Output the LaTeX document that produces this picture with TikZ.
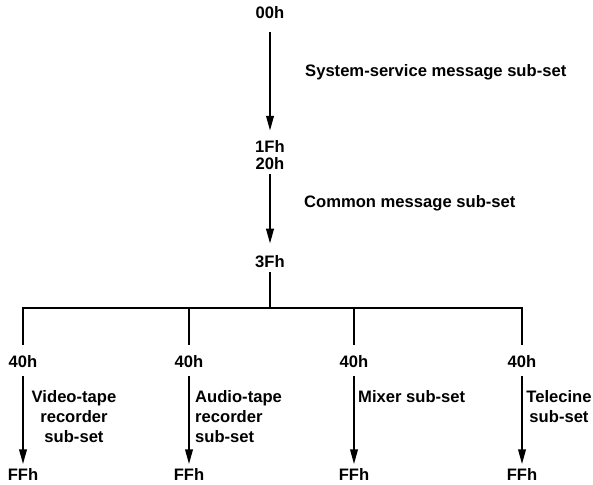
\documentclass[tikz,border=0pt]{standalone}
\usepackage{fontspec}
\setmainfont{Liberation Sans}
\usetikzlibrary{arrows.meta}
\begin{document}
\begin{tikzpicture}[x=1pt,y=-1pt,
  lbl/.style={font=\bfseries\fontsize{16.6}{20}\selectfont, inner sep=0pt},
  hex/.style={lbl, anchor=center},
  conn/.style={line width=2.2pt},
  arr/.style={conn, -{Triangle[length=15pt,width=7.5pt]}}]
\useasboundingbox (0,0) rectangle (593,484);
% main axis
\node[hex] (h00) at (270,13) {00h};
\node[hex] (h1F) at (270,146) {1Fh};
\node[hex] (h20) at (270,163.5) {20h};
\node[hex] (h3F) at (270,262) {3Fh};
\draw[arr, shorten <=13pt, shorten >=9pt] (h00.south) -- (h1F.north);
\draw[arr, shorten <=4pt, shorten >=12pt] (h20.south) -- (h3F.north);
\node[lbl, anchor=west] (sys) at (305,72) {System-service message sub-set};
\node[lbl, anchor=west] (com) at (304,203) {Common message sub-set};
% bar
\coordinate (bar) at (270,308);
\coordinate (b1) at (23,308);
\coordinate (b2) at (189,308);
\coordinate (b3) at (354,308);
\coordinate (b4) at (522,308);
\draw[conn, shorten <=4pt] (h3F.south) -- (bar);
\draw[conn, line join=miter] (b1 |- 0,345) -- (b1) -- (b4) -- (b4 |- 0,345);
\draw[conn] (b2) -- (b2 |- 0,345);
\draw[conn] (b3) -- (b3 |- 0,345);
% branches
\foreach \i/\x in {1/23,2/189,3/354,4/522}{
  \node[hex] (s\i) at (\x,362) {40h};
  \node[hex] (e\i) at (\x,474.5) {FFh};
  \draw[arr, shorten <=8pt, shorten >=4pt] (s\i.south) -- (e\i.north);
}
\node[lbl, align=center, anchor=north] (vtr) at (74,390) {Video-tape\\recorder\\sub-set};
\node[lbl, align=left, anchor=north west] (atr) at (195,390) {Audio-tape\\recorder\\sub-set};
\node[lbl, anchor=north west] (mix) at (358,390) {Mixer sub-set};
\node[lbl, align=center, anchor=north] (tel) at (559,390) {Telecine\\sub-set};
\end{tikzpicture}
\end{document}
